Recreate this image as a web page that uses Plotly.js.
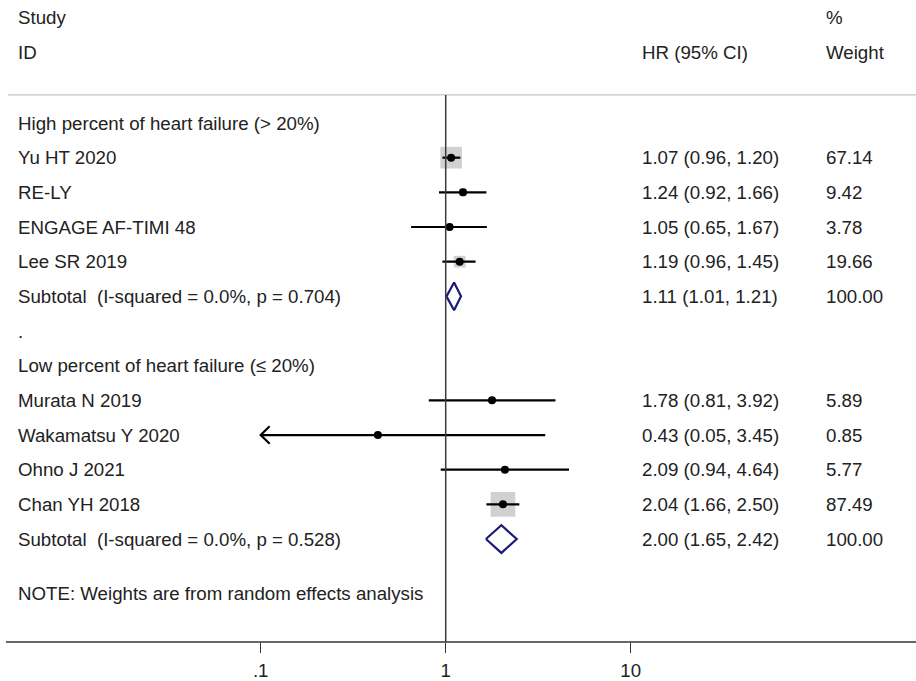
<!DOCTYPE html>
<html>
<head>
<meta charset="utf-8">
<script src="https://cdn.plot.ly/plotly-3.0.1.min.js"></script>
<style>
  html, body { margin: 0; padding: 0; background: #fff; }
  #chart { width: 916px; height: 681px; }
</style>
</head>
<body>
<div id="chart"></div>
<script>
// Forest plot: hazard ratios by subgroup (random-effects weights)
const groupTitles = ["High percent of heart failure (> 20%)", "Low percent of heart failure (\u2264 20%)"];

const studyNames = ["Yu HT 2020", "RE-LY", "ENGAGE AF-TIMI 48", "Lee SR 2019",
                    "Murata N 2019", "Wakamatsu Y 2020", "Ohno J 2021", "Chan YH 2018"];
const studyGroup = [0, 0, 0, 0, 1, 1, 1, 1];
const studyHR    = [1.07, 1.24, 1.05, 1.19, 1.78, 0.43, 2.09, 2.04];
const studyLo    = [0.96, 0.92, 0.65, 0.96, 0.81, 0.05, 0.94, 1.66];
const studyHi    = [1.20, 1.66, 1.67, 1.45, 3.92, 3.45, 4.64, 2.50];
const studyWt    = [67.14, 9.42, 3.78, 19.66, 5.89, 0.85, 5.77, 87.49];

const subLabels  = ["Subtotal  (I-squared = 0.0%, p = 0.704)", "Subtotal  (I-squared = 0.0%, p = 0.528)"];
const subHR      = [1.11, 2.00];
const subLo      = [1.01, 1.65];
const subHi      = [1.21, 2.42];
const subWt      = [100.00, 100.00];

const tickVals   = [0.1, 1, 10];
const tickText   = [".1", "1", "10"];
const noteText   = "NOTE: Weights are from random effects analysis";

// ---- row layout (row index increases downward) ----
const rows = [];
let r = 0;
groupTitles.forEach((g, gi) => {
  rows.push({kind: "group", text: g, row: r++});
  studyNames.forEach((s, i) => {
    if (studyGroup[i] === gi) rows.push({kind: "study", idx: i, row: r++});
  });
  rows.push({kind: "sub", idx: gi, row: r++});
  if (gi < groupTitles.length - 1) rows.push({kind: "gap", text: ".", row: r++});
});
const noteRow = r + 0.56;

const W = 916, H = 681;
const axisPx = 642;          // pixel y of the bottom axis line
const row0Px = 123, rowH = 34.67;
const yTop = -row0Px / rowH, yBot = (axisPx - row0Px) / rowH;
const oneX = 445.7, decade = 185;
const xRange = [(0 - oneX) / decade, (W - oneX) / decade];
const xMin = tickVals[0];    // intervals are clipped at the lowest tick

const TXT = "#222";
const FONT = "Liberation Sans, Arial, sans-serif";
const FS = 18.7;
const NAVY = "#1c1c78";

const colLabel = 16, colHR = 640, colWt = 823.5;

const traces = [];
const annotations = [];
const px = v => v / W;

function label(text, xpx, row) {
  annotations.push({xref: "paper", yref: "y", x: px(xpx), y: row, text: text,
    xanchor: "left", yanchor: "middle", showarrow: false,
    font: {family: FONT, size: FS, color: TXT}});
}

// headers
label("Study", colLabel, -3.03);
label("ID", colLabel, -2.02);
label("HR (95% CI)", colHR, -2.02);
label("%", colWt, -3.03);
label("Weight", colWt, -2.02);

const boxX = [], boxY = [], boxS = [];
const dotX = [], dotY = [];

rows.forEach(o => {
  if (o.kind === "group" || o.kind === "gap") {
    label(o.text, colLabel, o.row);
  } else if (o.kind === "study") {
    const i = o.idx;
    label(studyNames[i], colLabel, o.row);
    label(`${studyHR[i].toFixed(2)} (${studyLo[i].toFixed(2)}, ${studyHi[i].toFixed(2)})`, colHR, o.row);
    label(studyWt[i].toFixed(2), colWt, o.row);
    boxX.push(studyHR[i]); boxY.push(o.row); boxS.push(2.64 * Math.sqrt(studyWt[i]));
    dotX.push(studyHR[i]); dotY.push(o.row);
    const lo = Math.max(studyLo[i], xMin);
    traces.push({type: "scatter", mode: "lines", x: [lo, studyHi[i]], y: [o.row, o.row],
      line: {color: "#000", width: 2.2}, hoverinfo: "skip", showlegend: false});
    if (studyLo[i] < xMin) {
      // open arrowhead where the interval runs off the scale
      const f = 1.118;
      traces.push({type: "scatter", mode: "lines",
        x: [lo * f, lo, lo * f], y: [o.row - 0.254, o.row, o.row + 0.254],
        line: {color: "#000", width: 2.2}, hoverinfo: "skip", showlegend: false});
    }
  } else if (o.kind === "sub") {
    const j = o.idx;
    label(subLabels[j], colLabel, o.row);
    label(`${subHR[j].toFixed(2)} (${subLo[j].toFixed(2)}, ${subHi[j].toFixed(2)})`, colHR, o.row);
    label(subWt[j].toFixed(2), colWt, o.row);
    traces.push({type: "scatter", mode: "lines",
      x: [subLo[j], subHR[j], subHi[j], subHR[j], subLo[j]],
      y: [o.row, o.row - 0.4, o.row, o.row + 0.4, o.row],
      line: {color: NAVY, width: 2.2}, hoverinfo: "skip", showlegend: false});
  }
});
label(noteText, colLabel, noteRow);

// weight boxes drawn beneath the intervals
traces.unshift({type: "scatter", mode: "markers", x: boxX, y: boxY,
  marker: {symbol: "square", size: boxS, color: "#bdbdbd", line: {width: 0}},
  hoverinfo: "skip", showlegend: false});
traces.push({type: "scatter", mode: "markers", x: dotX, y: dotY,
  marker: {symbol: "circle", size: 8, color: "#000"}, hoverinfo: "skip", showlegend: false});

const layout = {
  width: W, height: H,
  margin: {l: 0, r: 0, t: 0, b: H - axisPx, pad: 0},
  paper_bgcolor: "#fff", plot_bgcolor: "#fff",
  showlegend: false,
  xaxis: {type: "log", range: xRange, showgrid: false, zeroline: false, showline: false,
    tickvals: tickVals, ticktext: tickText, ticks: "outside", ticklen: 10, tickwidth: 1.5,
    tickcolor: "#333", ticklabelstandoff: 2,
    tickfont: {family: FONT, size: FS, color: TXT}, fixedrange: true},
  yaxis: {range: [yBot, yTop], showgrid: false, zeroline: false, showline: false,
    showticklabels: false, ticks: "", fixedrange: true},
  shapes: [
    // header rule
    {type: "line", xref: "paper", yref: "y", x0: px(8), x1: 1, y0: -0.81, y1: -0.81,
      line: {color: "#c4c4c4", width: 1.2}},
    // line of no effect
    {type: "line", xref: "x", yref: "y", x0: 1, x1: 1, y0: -0.81, y1: yBot,
      line: {color: "#3a3a3a", width: 1.5}},
    // bottom axis line
    {type: "line", xref: "paper", yref: "paper", x0: px(6), x1: 1, y0: 0, y1: 0,
      line: {color: "#333", width: 1.5}}
  ],
  annotations: annotations
};

Plotly.newPlot("chart", traces, layout, {staticPlot: true, displayModeBar: false});
</script>
</body>
</html>
